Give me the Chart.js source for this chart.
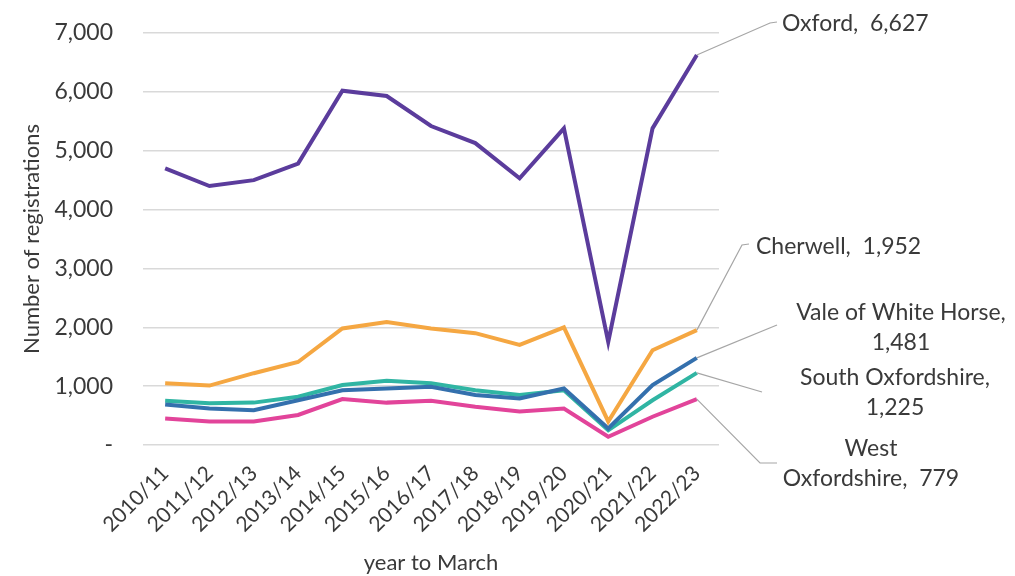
<!DOCTYPE html>
<html>
<head>
<meta charset="utf-8">
<script src="https://cdn.jsdelivr.net/npm/chart.js@4"></script>
<style>
    html, body { margin: 0; padding: 0; background: #fff; }
    #wrap { width: 1015px; height: 576px; position: relative; }
</style>
</head>
<body>
<div id="wrap"><canvas id="chart"></canvas></div>
<script>
const years = ['2010/11', '2011/12', '2012/13', '2013/14', '2014/15', '2015/16', '2016/17',
    '2017/18', '2018/19', '2019/20', '2020/21', '2021/22', '2022/23'];

const oxford = [4700, 4400, 4500, 4780, 6020, 5930, 5420, 5130, 4530, 5380, 1750, 5380, 6627];
const cherwell = [1050, 1010, 1220, 1410, 1980, 2090, 1980, 1900, 1700, 2000, 400, 1610, 1952];
const vale = [690, 620, 590, 760, 930, 960, 990, 850, 790, 960, 280, 1020, 1481];
const southOx = [750, 710, 720, 820, 1020, 1090, 1050, 930, 850, 930, 250, 760, 1225];
const westOx = [450, 400, 400, 510, 780, 720, 750, 650, 570, 620, 140, 480, 779];

const yTicks = [0, 1000, 2000, 3000, 4000, 5000, 6000, 7000];

const FONT = 'Lato, "Open Sans", sans-serif';

// callout labels at the end of each line: [text lines], leader bend points, text anchor
const callouts = [
    { lines: ['Oxford,  6,627'], path: [[770, 23], [777, 22]], x: 782, y: 24, align: 'left' },
    { lines: ['Cherwell,  1,952'], path: [[742, 245], [749, 244]], x: 756, y: 247, align: 'left' },
    { lines: ['Vale of White Horse,', '1,481'], path: [[777, 325]], x: 901, y: 313, align: 'center' },
    { lines: ['South Oxfordshire,', '1,225'], path: [[762, 392]], x: 895, y: 378, align: 'center' },
    { lines: ['West', 'Oxfordshire,  779'], path: [[760, 463], [777, 463]], x: 871, y: 449, align: 'center' }
];

const calloutPlugin = {
    id: 'callouts',
    afterDatasetsDraw(chart) {
        const ctx = chart.ctx;
        ctx.save();
        callouts.forEach((c, i) => {
            const meta = chart.getDatasetMeta(i);
            const pt = meta.data[meta.data.length - 1];
            ctx.strokeStyle = '#a6a6a6';
            ctx.lineWidth = 1.2;
            ctx.beginPath();
            ctx.moveTo(pt.x, pt.y);
            c.path.forEach(p => ctx.lineTo(p[0], p[1]));
            ctx.stroke();

            ctx.fillStyle = '#3a3a3a';
            ctx.font = '23px ' + FONT;
            ctx.textAlign = c.align;
            ctx.textBaseline = 'middle';
            c.lines.forEach((line, j) => {
                ctx.fillText(line, c.x, c.y + j * 30);
            });
        });
        ctx.restore();
    }
};

new Chart(document.getElementById('chart'), {
    type: 'line',
    data: {
        labels: years,
        datasets: [
            { label: 'Oxford', data: oxford, borderColor: '#5b3c9c' },
            { label: 'Cherwell', data: cherwell, borderColor: '#f5a742' },
            { label: 'Vale of White Horse', data: vale, borderColor: '#3470ad' },
            { label: 'South Oxfordshire', data: southOx, borderColor: '#30b5a3' },
            { label: 'West Oxfordshire', data: westOx, borderColor: '#e2449a' }
        ].map(d => Object.assign(d, {
            borderWidth: 4,
            pointRadius: 0,
            tension: 0,
            fill: false
        }))
    },
    options: {
        responsive: true,
        maintainAspectRatio: false,
        animation: false,
        layout: { padding: { left: 15, right: 296, top: 33, bottom: 0 } },
        plugins: {
            legend: { display: false },
            tooltip: { enabled: false }
        },
        scales: {
            x: {
                offset: true,
                grid: { display: false, drawTicks: false },
                border: { display: false },
                ticks: {
                    color: '#3a3a3a',
                    font: { family: FONT, size: 21 },
                    maxRotation: 45,
                    minRotation: 45,
                    padding: 16,
                    autoSkip: false
                },
                title: {
                    display: true,
                    text: 'year to March',
                    color: '#3a3a3a',
                    font: { family: FONT, size: 22 },
                    padding: { top: 4, bottom: 0 }
                },
                afterFit(scale) { scale.height = 131; }
            },
            y: {
                min: 0,
                max: 7000,
                afterBuildTicks(scale) {
                    scale.ticks = yTicks.map(v => ({ value: v }));
                },
                grid: { color: '#d9d9d9', lineWidth: 1.5, drawTicks: false },
                border: { display: false },
                ticks: {
                    color: '#3a3a3a',
                    font: { family: FONT, size: 23 },
                    padding: 30,
                    callback: v => v === 0 ? '-' : v.toLocaleString('en-GB')
                },
                title: {
                    display: true,
                    text: 'Number of registrations',
                    color: '#3a3a3a',
                    font: { family: FONT, size: 22 },
                    padding: { top: 4, bottom: 4 }
                },
                afterFit(scale) {
                    scale.width = 128;
                    scale.paddingTop = 0;
                    scale.paddingBottom = 0;
                }
            }
        }
    },
    plugins: [calloutPlugin]
});
</script>
</body>
</html>
